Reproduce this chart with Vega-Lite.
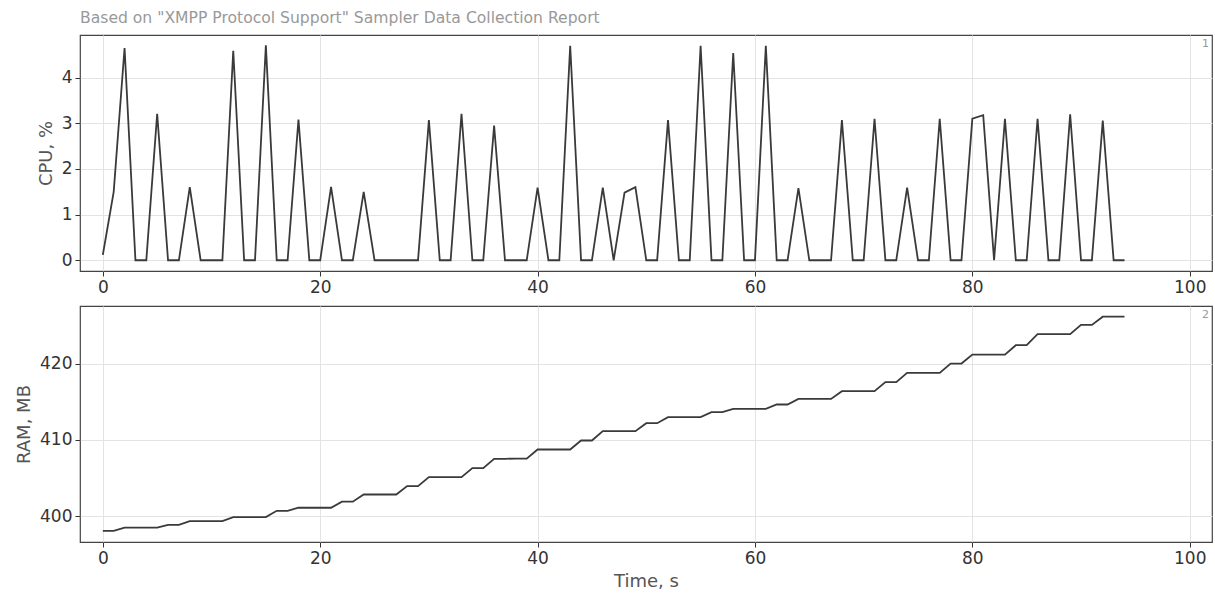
{
 "$schema": "https://vega.github.io/schema/vega-lite/v6.json",
 "padding": {"left": 14, "top": 10, "right": 3, "bottom": 5},
 "background": "white",
 "data": {"values": [
  {"t":0,"cpu":0.12,"ram":398.05},{"t":1,"cpu":1.5,"ram":398.05},{"t":2,"cpu":4.65,"ram":398.5},{"t":3,"cpu":0,"ram":398.5},{"t":4,"cpu":0,"ram":398.5},
  {"t":5,"cpu":3.21,"ram":398.5},{"t":6,"cpu":0,"ram":398.86},{"t":7,"cpu":0,"ram":398.86},{"t":8,"cpu":1.6,"ram":399.34},{"t":9,"cpu":0,"ram":399.34},
  {"t":10,"cpu":0,"ram":399.34},{"t":11,"cpu":0,"ram":399.34},{"t":12,"cpu":4.59,"ram":399.87},{"t":13,"cpu":0,"ram":399.87},{"t":14,"cpu":0,"ram":399.87},
  {"t":15,"cpu":4.71,"ram":399.87},{"t":16,"cpu":0,"ram":400.7},{"t":17,"cpu":0,"ram":400.7},{"t":18,"cpu":3.08,"ram":401.1},{"t":19,"cpu":0,"ram":401.1},
  {"t":20,"cpu":0,"ram":401.1},{"t":21,"cpu":1.61,"ram":401.1},{"t":22,"cpu":0,"ram":401.9},{"t":23,"cpu":0,"ram":401.9},{"t":24,"cpu":1.5,"ram":402.84},
  {"t":25,"cpu":0,"ram":402.84},{"t":26,"cpu":0,"ram":402.84},{"t":27,"cpu":0,"ram":402.84},{"t":28,"cpu":0,"ram":403.94},{"t":29,"cpu":0,"ram":403.94},
  {"t":30,"cpu":3.07,"ram":405.12},{"t":31,"cpu":0,"ram":405.12},{"t":32,"cpu":0,"ram":405.12},{"t":33,"cpu":3.21,"ram":405.12},{"t":34,"cpu":0,"ram":406.3},
  {"t":35,"cpu":0,"ram":406.3},{"t":36,"cpu":2.95,"ram":407.53},{"t":37,"cpu":0,"ram":407.53},{"t":38,"cpu":0,"ram":407.55},{"t":39,"cpu":0,"ram":407.55},
  {"t":40,"cpu":1.59,"ram":408.75},{"t":41,"cpu":0,"ram":408.75},{"t":42,"cpu":0,"ram":408.75},{"t":43,"cpu":4.7,"ram":408.75},{"t":44,"cpu":0,"ram":409.93},
  {"t":45,"cpu":0,"ram":409.93},{"t":46,"cpu":1.59,"ram":411.16},{"t":47,"cpu":0,"ram":411.16},{"t":48,"cpu":1.48,"ram":411.16},{"t":49,"cpu":1.6,"ram":411.16},
  {"t":50,"cpu":0,"ram":412.21},{"t":51,"cpu":0,"ram":412.21},{"t":52,"cpu":3.07,"ram":413.0},{"t":53,"cpu":0,"ram":413.0},{"t":54,"cpu":0,"ram":413.0},
  {"t":55,"cpu":4.7,"ram":413.0},{"t":56,"cpu":0,"ram":413.65},{"t":57,"cpu":0,"ram":413.65},{"t":58,"cpu":4.54,"ram":414.09},{"t":59,"cpu":0,"ram":414.09},
  {"t":60,"cpu":0,"ram":414.09},{"t":61,"cpu":4.7,"ram":414.09},{"t":62,"cpu":0,"ram":414.66},{"t":63,"cpu":0,"ram":414.66},{"t":64,"cpu":1.58,"ram":415.4},
  {"t":65,"cpu":0,"ram":415.4},{"t":66,"cpu":0,"ram":415.4},{"t":67,"cpu":0,"ram":415.4},{"t":68,"cpu":3.07,"ram":416.41},{"t":69,"cpu":0,"ram":416.41},
  {"t":70,"cpu":0,"ram":416.41},{"t":71,"cpu":3.1,"ram":416.41},{"t":72,"cpu":0,"ram":417.6},{"t":73,"cpu":0,"ram":417.6},{"t":74,"cpu":1.59,"ram":418.82},
  {"t":75,"cpu":0,"ram":418.82},{"t":76,"cpu":0,"ram":418.82},{"t":77,"cpu":3.1,"ram":418.82},{"t":78,"cpu":0,"ram":420.04},{"t":79,"cpu":0,"ram":420.04},
  {"t":80,"cpu":3.1,"ram":421.22},{"t":81,"cpu":3.18,"ram":421.22},{"t":82,"cpu":0,"ram":421.22},{"t":83,"cpu":3.1,"ram":421.22},{"t":84,"cpu":0,"ram":422.45},
  {"t":85,"cpu":0,"ram":422.45},{"t":86,"cpu":3.1,"ram":423.9},{"t":87,"cpu":0,"ram":423.9},{"t":88,"cpu":0,"ram":423.9},{"t":89,"cpu":3.2,"ram":423.9},
  {"t":90,"cpu":0,"ram":425.12},{"t":91,"cpu":0,"ram":425.12},{"t":92,"cpu":3.06,"ram":426.2},{"t":93,"cpu":0,"ram":426.2},{"t":94,"cpu":0,"ram":426.2}
 ]},
 "spacing": 9,
 "vconcat": [
  {
   "width": 1132, "height": 236,
   "title": {"text": "Based on \"XMPP Protocol Support\" Sampler Data Collection Report", "anchor": "start", "frame": "group", "fontSize": 15.6, "fontWeight": "normal", "color": "#999999", "font": "DejaVu Sans", "offset": 8},
   "layer": [
    {"mark": {"type": "line", "color": "#3a3a3a", "strokeWidth": 1.8},
     "encoding": {
      "x": {"field": "t", "type": "quantitative", "scale": {"domain": [-2.1, 102.05], "nice": false, "zero": false}, "axis": {"title": null, "values": [0, 20, 40, 60, 80, 100]}},
      "y": {"field": "cpu", "type": "quantitative", "scale": {"domain": [-0.235, 4.935], "nice": false, "zero": false}, "axis": {"title": "CPU, %", "values": [0, 1, 2, 3, 4]}}
     }},
    {"data": {"values": [{"label": "1"}]},
     "mark": {"type": "text", "align": "right", "baseline": "top", "dx": -3, "dy": 3, "fontSize": 11, "color": "#999999", "font": "DejaVu Sans"},
     "encoding": {"x": {"datum": 102.05, "type": "quantitative"}, "y": {"datum": 4.935, "type": "quantitative"}, "text": {"field": "label"}}}
   ]
  },
  {
   "width": 1132, "height": 236,
   "layer": [
    {"mark": {"type": "line", "color": "#3a3a3a", "strokeWidth": 1.8},
     "encoding": {
      "x": {"field": "t", "type": "quantitative", "scale": {"domain": [-2.1, 102.05], "nice": false, "zero": false}, "axis": {"title": "Time, s", "values": [0, 20, 40, 60, 80, 100]}},
      "y": {"field": "ram", "type": "quantitative", "scale": {"domain": [396.6, 427.6], "nice": false, "zero": false}, "axis": {"title": "RAM, MB", "values": [400, 410, 420]}}
     }},
    {"data": {"values": [{"label": "2"}]},
     "mark": {"type": "text", "align": "right", "baseline": "top", "dx": -3, "dy": 3, "fontSize": 11, "color": "#999999", "font": "DejaVu Sans"},
     "encoding": {"x": {"datum": 102.05, "type": "quantitative"}, "y": {"datum": 427.6, "type": "quantitative"}, "text": {"field": "label"}}}
   ]
  }
 ],
 "config": {
  "font": "DejaVu Sans",
  "view": {"stroke": "#444444", "strokeWidth": 1.2},
  "axis": {"domain": false, "grid": true, "gridColor": "#e3e3e3", "gridWidth": 1, "tickColor": "#333333", "tickSize": 5, "labelFont": "DejaVu Sans", "labelFontSize": 17, "labelColor": "#333333", "titleFont": "DejaVu Sans", "titleFontSize": 18, "titleColor": "#555555", "titleFontWeight": "normal", "labelPadding": 3, "titlePadding": 6}
 }
}
